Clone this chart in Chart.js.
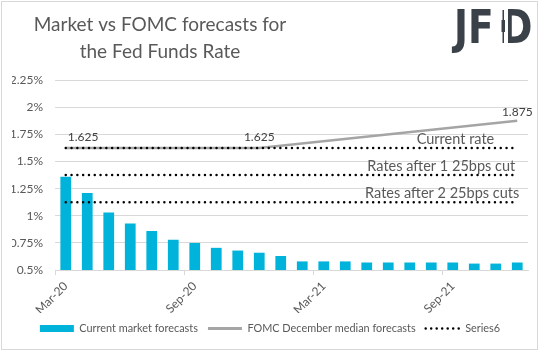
<!DOCTYPE html>
<html>
<head>
<meta charset="utf-8">
<script src="https://cdn.jsdelivr.net/npm/chart.js@4.4.1/dist/chart.umd.min.js"></script>
<style>
  html, body { margin: 0; padding: 0; background: #fff; }
  #frame { position: absolute; left: 1px; top: 1px; width: 535px; height: 347px; border: 1px solid #d9d9d9; }
  #wrap { position: absolute; left: 0; top: 0; width: 543px; height: 351px; }
</style>
</head>
<body>
<div id="frame"></div>
<div id="wrap"><canvas id="chart" width="543" height="351"></canvas></div>
<script>
// monthly categories
const months = ['Mar-20', 'Apr-20', 'May-20', 'Jun-20', 'Jul-20', 'Aug-20', 'Sep-20', 'Oct-20', 'Nov-20', 'Dec-20', 'Jan-21',
  'Feb-21', 'Mar-21', 'Apr-21', 'May-21', 'Jun-21', 'Jul-21', 'Aug-21', 'Sep-21', 'Oct-21', 'Nov-21', 'Dec-21'];
const marketForecasts = [1.36, 1.21, 1.03, 0.93, 0.86, 0.78, 0.75, 0.705, 0.68, 0.66, 0.63,
  0.58, 0.58, 0.58, 0.57, 0.57, 0.57, 0.57, 0.57, 0.56, 0.56, 0.57];
const fomcMedian = [1.625, null, null, null, null, null, null, null, null, 1.625, null,
  null, null, null, null, null, null, null, null, null, null, 1.875];
const currentRate = [1.625, 1.625, 1.625, 1.625, 1.625, 1.625, 1.625, 1.625, 1.625, 1.625, 1.625,
  1.625, 1.625, 1.625, 1.625, 1.625, 1.625, 1.625, 1.625, 1.625, 1.625, 1.625];
const afterOneCut = [1.375, 1.375, 1.375, 1.375, 1.375, 1.375, 1.375, 1.375, 1.375, 1.375, 1.375,
  1.375, 1.375, 1.375, 1.375, 1.375, 1.375, 1.375, 1.375, 1.375, 1.375, 1.375];
const afterTwoCuts = [1.125, 1.125, 1.125, 1.125, 1.125, 1.125, 1.125, 1.125, 1.125, 1.125, 1.125,
  1.125, 1.125, 1.125, 1.125, 1.125, 1.125, 1.125, 1.125, 1.125, 1.125, 1.125];
const lineNotes = ['Current rate', 'Rates after 1 25bps cut', 'Rates after 2 25bps cuts'];
const shownMonths = ['Mar-20', 'Sep-20', 'Mar-21', 'Sep-21'];
const yMin = 0.5, yMax = 2.25, yStep = 0.25;

const FONT = 'Lato, "Open Sans", sans-serif';
const BLUE = '#00b3db';
const GREY = '#a5a5a5';
const TEXT = '#595959';
const GRID = '#d9d9d9';

const dots = (data) => ({
  type: 'line', data: data, borderColor: '#000', borderWidth: 2.5,
  borderDash: [0, 5.8], borderCapStyle: 'round', pointRadius: 0, order: 0
});

const overlay = {
  id: 'overlay',
  afterDraw(chart) {
    const { ctx, scales: { x, y } } = chart;
    ctx.save();
    // title
    ctx.fillStyle = TEXT;
    ctx.font = '19px ' + FONT;
    ctx.textAlign = 'center';
    ctx.textBaseline = 'middle';
    ctx.fillText('Market vs FOMC forecasts for', 160, 25);
    ctx.fillText('the Fed Funds Rate', 160, 52);

    // FOMC point labels
    ctx.font = '12px ' + FONT;
    ctx.fillStyle = '#404040';
    fomcMedian.forEach((v, i) => {
      if (v === null) return;
      const px = x.getPixelForValue(i), py = y.getPixelForValue(v);
      ctx.textAlign = i === 0 ? 'left' : 'center';
      ctx.fillText(v.toFixed(3), i === 0 ? px + 2 : px, py - (i === 0 || i === 9 ? 11 : 9));
    });

    // notes above dotted lines
    ctx.font = '14.5px ' + FONT;
    ctx.fillStyle = TEXT;
    ctx.textAlign = 'right';
    const last = x.getPixelForValue(months.length - 1);
    [currentRate, afterOneCut, afterTwoCuts].forEach((s, k) => {
      const shift = [-23, -2, 2][k];
      ctx.fillText(lineNotes[k], last + shift, y.getPixelForValue(s[s.length - 1]) - 9);
    });

    // JFD logo
    ctx.fillStyle = '#3b4148';
    ctx.textAlign = 'left';
    ctx.textBaseline = 'alphabetic';
    ctx.font = 'bold 47px "DejaVu Sans", sans-serif';
    ctx.save();
    ctx.translate(454, 43);
    ctx.scale(0.8, 1);
    ctx.fillText('JF', 0, 0);
    ctx.fillText('D', 59, 0);
    ctx.restore();
    ctx.fillStyle = '#fff';
    ctx.fillRect(501, 8, 7, 37);
    ctx.fillStyle = '#3b4148';
    ctx.fillRect(502.5, 10, 1.5, 33);
    ctx.fillRect(501.5, 20, 3.5, 12);
    ctx.restore();
  }
};

new Chart(document.getElementById('chart'), {
  data: {
    labels: months,
    datasets: [
      { type: 'bar', label: 'Current market forecasts', data: marketForecasts, backgroundColor: BLUE,
        barPercentage: 0.5, categoryPercentage: 1, order: 2 },
      { type: 'line', label: 'FOMC December median forecasts', data: fomcMedian, borderColor: GREY,
        borderWidth: 2.5, spanGaps: true, pointRadius: 0, order: 1 },
      Object.assign(dots(currentRate), { label: 'Series6' }),
      dots(afterOneCut),
      dots(afterTwoCuts)
    ]
  },
  options: {
    responsive: false,
    animation: false,
    layout: { padding: { left: 12, right: 15, top: 80, bottom: 7 } },
    plugins: {
      tooltip: { enabled: false },
      title: { display: false },
      legend: {
        position: 'bottom',
        labels: {
          usePointStyle: true,
          pointStyleWidth: 34,
          boxHeight: 7,
          padding: 10,
          color: TEXT,
          font: { family: FONT, size: 10.9 },
          generateLabels: () => [
            { text: 'Current market forecasts', pointStyle: 'rect', fillStyle: BLUE, strokeStyle: BLUE,
              lineWidth: 0, fontColor: TEXT, datasetIndex: 0 },
            { text: 'FOMC December median forecasts', pointStyle: 'line', fillStyle: GREY, strokeStyle: GREY,
              lineWidth: 3, fontColor: TEXT, datasetIndex: 1 },
            { text: 'Series6', pointStyle: 'line', fillStyle: '#000', strokeStyle: '#000', lineWidth: 2.5,
              lineDash: [0, 5.5], lineCap: 'round', fontColor: TEXT, datasetIndex: 2 }
          ]
        }
      }
    },
    scales: {
      x: {
        offset: true,
        afterFit: (scale) => { scale.height = 43; },
        grid: {
          offset: true,
          drawOnChartArea: false,
          tickLength: 5,
          color: (c) => (c.index % 6 === 0 ? GRID : 'rgba(0,0,0,0)')
        },
        border: { color: GRID },
        ticks: {
          autoSkip: false,
          maxRotation: 45,
          minRotation: 45,
          padding: 4,
          color: TEXT,
          font: { family: FONT, size: 12 },
          callback: (v, i) => (shownMonths.includes(months[i]) ? months[i] : '')
        }
      },
      y: {
        min: yMin,
        max: yMax,
        afterFit: (scale) => { scale.width = 43; },
        grid: { color: GRID, drawTicks: false },
        border: { display: false },
        ticks: {
          stepSize: yStep,
          padding: 12,
          color: TEXT,
          font: { family: FONT, size: 12 },
          callback: (v) => v + '%'
        }
      }
    }
  },
  plugins: [overlay]
});
</script>
</body>
</html>
